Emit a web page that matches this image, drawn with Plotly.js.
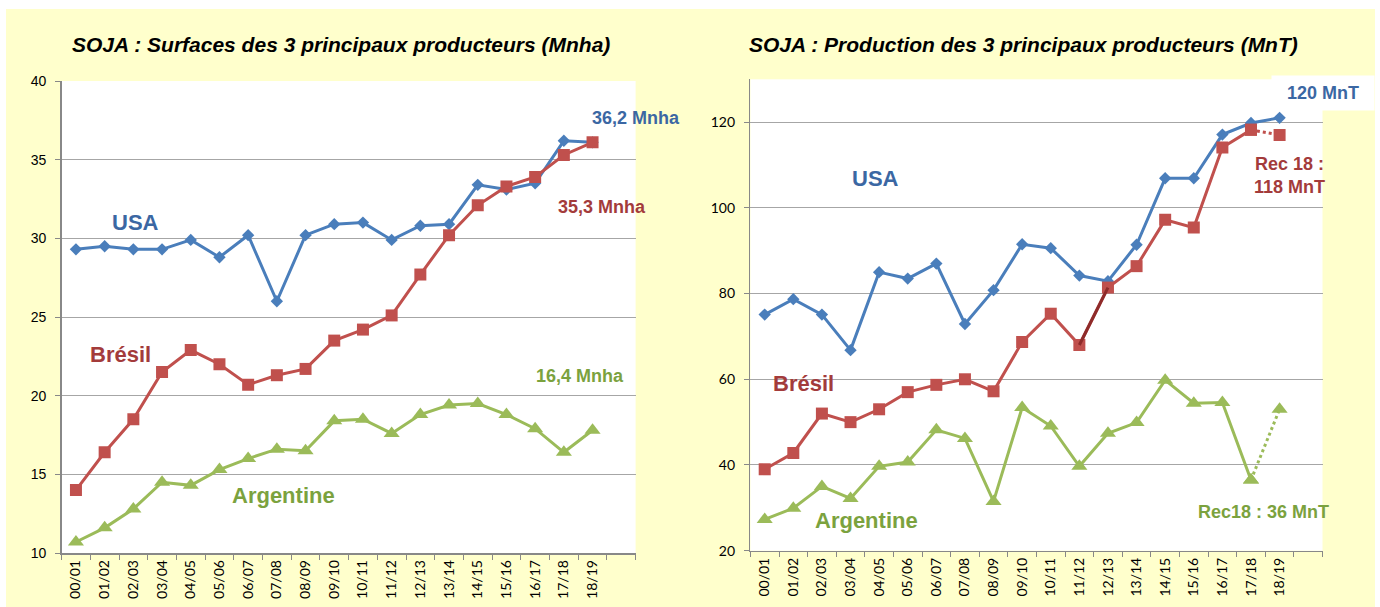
<!DOCTYPE html>
<html>
<head>
<meta charset="utf-8">
<script src="https://cdn.plot.ly/plotly-3.0.1.min.js"></script>
<style>html,body{margin:0;padding:0;background:#fff;}#chart{width:1380px;height:607px;}</style>
</head>
<body>
<div id="chart"></div>
<script>
// Campaigns (the 20th slot is empty in the source chart)
const campagnes = ["00/01","01/02","02/03","03/04","04/05","05/06","06/07","07/08","08/09","09/10","10/11","11/12","12/13","13/14","14/15","15/16","16/17","17/18","18/19","19/20"];
const campagnesData = campagnes.slice(0, 19);

// Surfaces (Mnha)
const surfUSA       = [29.3,29.5,29.3,29.3,29.9,28.8,30.2,26.0,30.2,30.9,31.0,29.9,30.8,30.9,33.4,33.1,33.5,36.2,36.1];
const surfBresil    = [14.0,16.4,18.5,21.5,22.9,22.0,20.7,21.3,21.7,23.5,24.2,25.1,27.7,30.2,32.1,33.3,33.9,35.3,36.1];
const surfArgentine = [10.7,11.6,12.8,14.5,14.3,15.3,16.0,16.6,16.5,18.4,18.5,17.6,18.8,19.4,19.5,18.8,17.9,16.4,17.8];

// Production (MnT)
const prodUSA       = [75.1,78.7,75.1,66.8,85.0,83.5,87.0,72.9,80.8,91.5,90.6,84.2,82.9,91.4,106.9,106.9,117.1,119.8,121.0];
const prodBresil    = [39.0,42.8,52.0,50.0,53.0,57.0,58.7,60.0,57.2,68.7,75.3,68.0,81.4,86.4,97.2,95.4,114.1,118.2,117.0];
const prodArgentine = [27.3,29.9,35.0,32.2,39.7,40.7,48.2,46.2,31.5,53.4,49.1,39.7,47.4,49.9,59.8,54.4,54.6,36.5,53.0];

const cBlue = "#4A7EBB", cRed = "#C0504D", cGreen = "#9BBB59", cDarkRed = "#8E2B2A";
const tBlue = "#3B67A3", tRed = "#A33B3B", tGreen = "#7BA23E";

const W = 1380, H = 607;
const px = v => v / W;
const py = v => 1 - v / H;

function line(x, y, color, sym, size, xa, ya, dash, mode) {
  return {
    x: x, y: y, type: "scatter", mode: mode || "lines+markers",
    xaxis: xa, yaxis: ya, hoverinfo: "skip", showlegend: false,
    line: {color: color, width: 3, dash: dash || "solid"},
    marker: {symbol: sym, size: size, color: color, line: {width: 0}}
  };
}

const DS = 9.5, SS = 12, TS = 14;
const data = [
  // Left chart
  line(campagnesData, surfUSA, cBlue, "diamond", DS, "x", "y"),
  line(campagnesData, surfBresil, cRed, "square", SS, "x", "y"),
  line(campagnesData, surfArgentine, cGreen, "triangle-up", TS, "x", "y"),
  // Right chart
  line(campagnesData, prodUSA, cBlue, "diamond", DS, "x2", "y2"),
  line(campagnesData.slice(0, 18), prodBresil.slice(0, 18), cRed, "square", SS, "x2", "y2"),
  line(campagnesData.slice(11, 13), prodBresil.slice(11, 13), cDarkRed, "square", SS, "x2", "y2", "solid", "lines"),
  line(campagnesData.slice(17, 19), prodBresil.slice(17, 19), cRed, "square", SS, "x2", "y2", "dot"),
  line(campagnesData.slice(0, 18), prodArgentine.slice(0, 18), cGreen, "triangle-up", TS, "x2", "y2"),
  line(campagnesData.slice(17, 19), prodArgentine.slice(17, 19), cGreen, "triangle-up", TS, "x2", "y2", "dot")
];

const xBase = {
  type: "category", categoryarray: campagnes, categoryorder: "array",
  range: [-0.5, 19.5], tickvals: campagnes, ticktext: campagnes.slice(0,19).concat([""]),
  tickangle: -90, tickson: "boundaries", ticks: "outside", ticklen: 5, tickcolor: "#888",
  showline: true, linecolor: "#888", linewidth: 1.5, showgrid: false, zeroline: false,
  tickfont: {family: "Lato, 'Open Sans', sans-serif", size: 14, color: "#000"}, fixedrange: true
};
const yBase = {
  showline: true, linecolor: "#888", linewidth: 1.5, showgrid: true, gridcolor: "#A6A6A6", gridwidth: 1,
  ticks: "outside", ticklen: 5, tickcolor: "#888", zeroline: false, fixedrange: true,
  ticklabelstandoff: 6
};

const fontLbl = "'Liberation Sans', Arial, sans-serif";
function ann(text, x, y, color, size, extra) {
  return Object.assign({
    text: text, xref: "paper", yref: "paper", x: px(x), y: py(y),
    xanchor: "center", yanchor: "middle", showarrow: false,
    font: {family: fontLbl, size: size, color: color, weight: 700}
  }, extra || {});
}
const titleFont = {family: fontLbl, size: 21, color: "#000", weight: 700, style: "italic"};

const layout = {
  width: W, height: H, margin: {l: 0, r: 0, t: 0, b: 0},
  paper_bgcolor: "#FFFFCC", plot_bgcolor: "#FFFFFF",
  showlegend: false,
  xaxis: Object.assign({}, xBase, {domain: [px(61.6), px(635.6)], anchor: "y"}),
  yaxis: Object.assign({}, yBase, {domain: [py(553), py(81)], anchor: "x", range: [10, 40], dtick: 5,
    tickfont: {family: "'Liberation Sans', Arial, sans-serif", size: 14, color: "#000"}}),
  xaxis2: Object.assign({}, xBase, {domain: [px(750.4), px(1322.5)], anchor: "y2"}),
  yaxis2: Object.assign({}, yBase, {domain: [py(550.7), py(79.3)], anchor: "x2", range: [20, 130], tickvals: [20,40,60,80,100,120],
    tickfont: {family: "Lato, 'Open Sans', sans-serif", size: 14, color: "#000"}}),
  shapes: [
    {type: "rect", xref: "paper", yref: "paper", x0: 0, x1: 1, y0: py(9), y1: 1, fillcolor: "#FFFFFF", line: {width: 0}, layer: "below"},
    {type: "rect", xref: "paper", yref: "paper", x0: 0, x1: px(6), y0: 0, y1: 1, fillcolor: "#FFFFFF", line: {width: 0}, layer: "below"},
    {type: "rect", xref: "paper", yref: "paper", x0: px(1375), x1: 1, y0: 0, y1: 1, fillcolor: "#FFFFFF", line: {width: 0}, layer: "below"}
  ],
  annotations: [
    ann("SOJA : Surfaces des 3 principaux producteurs (Mnha)", 341, 45, "#000", 21, {font: titleFont}),
    ann("SOJA : Production des 3 principaux producteurs (MnT)", 1023, 45, "#000", 21, {font: titleFont}),
    ann("USA", 135, 223, tBlue, 22),
    ann("Brésil", 120, 354, tRed, 22),
    ann("Argentine", 283, 495, tGreen, 22),
    ann("36,2 Mnha", 636, 118, tBlue, 18),
    ann("35,3 Mnha", 602, 207, tRed, 18),
    ann("16,4 Mnha", 580, 376, tGreen, 18),
    ann("USA", 875, 178, tBlue, 22),
    ann("Brésil", 803, 384, tRed, 22),
    ann("Argentine", 866, 520, tGreen, 22),
    ann("120 MnT", 1323, 93, tBlue, 18, {bgcolor: "#FFFFFF", width: 98, height: 30, borderpad: 2}),
    ann("Rec 18 :<br>118 MnT", 1289, 176, tRed, 18),
    ann("Rec18 : 36 MnT", 1263, 512, tGreen, 18)
  ]
};

Plotly.newPlot("chart", data, layout, {staticPlot: true, displayModeBar: false});
</script>
</body>
</html>
